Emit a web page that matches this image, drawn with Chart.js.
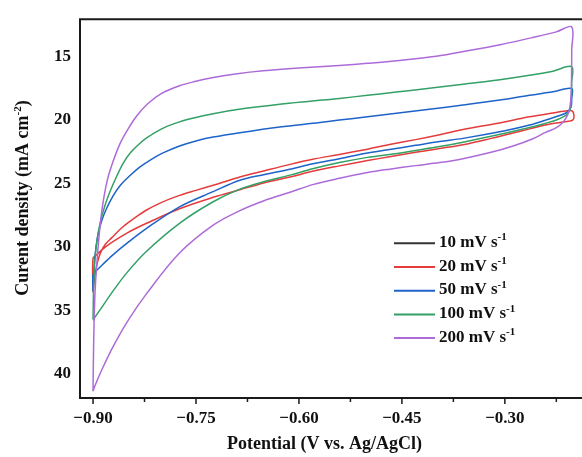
<!DOCTYPE html>
<html><head><meta charset="utf-8">
<script src="https://cdn.jsdelivr.net/npm/chart.js@4.4.0/dist/chart.umd.min.js"></script>
<style>html,body{margin:0;padding:0;background:#fff;}canvas{display:block;}</style>
</head><body>
<canvas id="c" width="582" height="457"></canvas>
<script>
// ---- data ----
const seriesNames = ['10 mV s', '20 mV s', '50 mV s', '100 mV s', '200 mV s'];
const seriesSup = '-1';
const xTitle = 'Potential (V vs. Ag/AgCl)';
const yTitleMain = 'Curent density (mA cm';
const yTitleSup = '-2';

const potential10 = [];
const current10 = [];

const potential20 = [-0.9,-0.8985,-0.8965,-0.893,-0.8885,-0.882,-0.873,-0.856,-0.84,-0.822,-0.8,-0.774,-0.75,-0.725,-0.686,-0.65,-0.613,-0.58,-0.541,-0.5,-0.468,-0.43,-0.395,-0.361,-0.31,-0.264,-0.23,-0.206,
  -0.2015,-0.1995,-0.1995,-0.2015,-0.207,-0.22,-0.239,
  -0.264,-0.288,-0.32,-0.361,-0.395,-0.43,-0.468,-0.5,-0.541,-0.58,-0.613,-0.65,-0.686,-0.725,-0.774,-0.822,-0.85,-0.871,-0.885,-0.895,-0.9,-0.9];
const current20 = [33.6,32.8,32.0,31.1,30.4,29.8,29.3,28.4,27.75,27.1,26.5,25.95,25.55,25.15,24.5,24.0,23.5,23.1,22.72,22.3,21.94,21.55,21.16,20.75,20.25,19.75,19.45,19.26,
  19.3,19.55,19.85,20.02,20.1,20.2,20.38,
  20.7,21.03,21.45,21.95,22.25,22.55,22.9,23.2,23.62,24.05,24.5,24.95,25.5,26.1,27.0,28.15,28.9,29.6,30.15,30.64,30.9,33.6];

const potential50 = [-0.9,-0.8995,-0.8975,-0.893,-0.887,-0.8805,-0.871,-0.861,-0.8465,-0.832,-0.815,-0.798,-0.774,-0.75,-0.725,-0.686,-0.628,-0.5695,-0.541,-0.5,-0.458,-0.41,-0.361,-0.31,-0.264,-0.23,-0.2026,
  -0.2026,-0.203,-0.205,-0.209,-0.215,-0.24,
  -0.264,-0.3,-0.361,-0.395,-0.43,-0.468,-0.5,-0.541,-0.58,-0.613,-0.65,-0.686,-0.725,-0.774,-0.822,-0.85,-0.871,-0.886,-0.896,-0.9,-0.9];
const current50 = [33.5,32.9,30.9,29.1,27.9,27.0,26.0,25.2,24.4,23.72,23.1,22.6,22.05,21.65,21.35,21.0,20.55,20.2,20.0,19.75,19.47,19.15,18.82,18.45,18.05,17.78,17.52,
  18.3,18.8,19.15,19.38,19.55,20.0,
  20.4,20.85,21.45,21.7,22.0,22.33,22.6,23.05,23.45,23.88,24.3,24.75,25.65,26.85,28.55,29.7,30.64,31.4,31.94,32.2,33.5];

const potential100 = [-0.9,-0.8995,-0.899,-0.8975,-0.8945,-0.89,-0.883,-0.8757,-0.866,-0.856,-0.845,-0.834,-0.822,-0.8,-0.774,-0.75,-0.725,-0.68,-0.628,-0.58,-0.541,-0.5,-0.458,-0.41,-0.361,-0.31,-0.264,-0.23,-0.2026,
  -0.2026,-0.203,-0.204,-0.2065,-0.213,-0.225,-0.24,
  -0.264,-0.3,-0.361,-0.395,-0.43,-0.468,-0.5,-0.541,-0.58,-0.613,-0.65,-0.686,-0.725,-0.774,-0.822,-0.85,-0.871,-0.89,-0.899,-0.9];
const current100 = [35.7,34.0,33.0,31.2,29.6,28.2,26.8,25.7,24.5,23.4,22.55,21.95,21.42,20.7,20.15,19.8,19.5,19.1,18.75,18.5,18.3,18.05,17.8,17.5,17.18,16.85,16.48,16.15,15.8,
  17.0,18.2,18.9,19.35,19.7,20.0,20.25,
  20.6,21.05,21.75,22.1,22.4,22.72,22.95,23.36,23.85,24.35,24.85,25.45,26.45,28.15,30.35,32.0,33.5,35.0,35.7,35.8];

const potential200 = [-0.9,-0.8995,-0.8985,-0.897,-0.894,-0.89,-0.8854,-0.879,-0.871,-0.861,-0.85,-0.8367,-0.82,-0.8,-0.774,-0.75,-0.725,-0.69,-0.652,-0.6,-0.541,-0.5,-0.453,-0.4,-0.356,-0.307,-0.259,-0.225,-0.2026,
  -0.2026,-0.2028,-0.2035,-0.205,-0.2085,-0.215,-0.225,-0.2415,
  -0.26,-0.288,-0.32,-0.361,-0.395,-0.43,-0.468,-0.5,-0.541,-0.58,-0.613,-0.65,-0.686,-0.725,-0.774,-0.822,-0.85,-0.871,-0.888,-0.8975,-0.9];
const current200 = [41.4,39.0,36.0,33.5,31.0,28.5,26.5,24.7,23.3,21.9,20.8,19.7,18.7,17.9,17.3,16.95,16.65,16.35,16.12,15.9,15.7,15.53,15.3,14.97,14.56,14.06,13.49,13.05,12.66,
  14.5,16.5,18.0,18.9,19.6,20.15,20.6,21.0,
  21.5,22.05,22.55,23.05,23.36,23.6,23.88,24.15,24.6,25.1,25.7,26.35,27.15,28.3,30.5,33.7,35.9,37.9,39.8,41.0,41.4];

const seriesColors = ['#333333', '#e53b3b', '#1d63c9', '#33a066', '#ad6bd9'];

// ---- build ----
const xs = [potential10, potential20, potential50, potential100, potential200];
const ys = [current10, current20, current50, current100, current200];
const datasets = seriesNames.map((n, i) => ({
  label: n + ' ' + seriesSup,
  data: xs[i].map((x, k) => ({x: x, y: ys[i][k]})),
  borderColor: seriesColors[i],
  backgroundColor: seriesColors[i],
  borderWidth: 1.5,
  pointRadius: 0,
  showLine: true,
  tension: 0.35,
  fill: false,
  order: 4 - i
}));

const FONT = '"Liberation Serif", "Times New Roman", serif';

function drawParts(ctx, parts, x, y, size) {
  let cx = x;
  for (const p of parts) {
    if (p.sup) {
      ctx.font = 'bold ' + Math.round(size * 0.62) + 'px ' + FONT;
      ctx.fillText(p.t, cx, y - size * 0.38);
    } else {
      ctx.font = 'bold ' + size + 'px ' + FONT;
      ctx.fillText(p.t, cx, y);
    }
    cx += ctx.measureText(p.t).width;
  }
  return cx - x;
}
function measureParts(ctx, parts, size) {
  let w = 0;
  for (const p of parts) {
    ctx.font = 'bold ' + (p.sup ? Math.round(size * 0.62) : size) + 'px ' + FONT;
    w += ctx.measureText(p.t).width;
  }
  return w;
}

const framePlugin = {
  id: 'frame',
  afterDraw(chart) {
    const ctx = chart.ctx;
    const a = chart.chartArea;
    const sx = chart.scales.x, sy = chart.scales.y;
    ctx.save();
    ctx.strokeStyle = '#1a1a1a';
    ctx.lineWidth = 2;
    ctx.beginPath();
    ctx.moveTo(a.left, a.top); ctx.lineTo(a.right + 2, a.top);
    ctx.moveTo(a.left, a.top - 1); ctx.lineTo(a.left, a.bottom + 1);
    ctx.moveTo(a.left - 1, a.bottom); ctx.lineTo(a.right + 2, a.bottom);
    ctx.stroke();
    // ticks
    ctx.lineWidth = 1.5;
    const xt = sx.ticks.map(t => t.value);
    const xstep = xt[1] - xt[0];
    ctx.beginPath();
    for (let v = xt[0] - xstep / 2; v <= sx.max + 1e-9; v += xstep / 2) {
      if (v < sx.min) continue;
      const p = sx.getPixelForValue(v);
      const major = xt.some(t => Math.abs(t - v) < 1e-6);
      ctx.moveTo(p, a.bottom); ctx.lineTo(p, a.bottom + (major ? 6 : 4));
    }
    const yt = sy.ticks.map(t => t.value);
    const ystep = yt[1] - yt[0];
    for (let v = yt[0] - ystep / 2; v <= sy.max + 1e-9; v += ystep / 2) {
      if (v < sy.min) continue;
      const p = sy.getPixelForValue(v);
      const major = yt.some(t => Math.abs(t - v) < 1e-6);
      ctx.moveTo(a.left, p); ctx.lineTo(a.left - (major ? 6 : 4), p);
    }
    ctx.stroke();

    // axis titles
    ctx.fillStyle = '#111';
    ctx.textBaseline = 'alphabetic';
    ctx.textAlign = 'left';
    const xParts = [{t: xTitle}];
    const wx = measureParts(ctx, xParts, 18);
    drawParts(ctx, xParts, 324.5 - wx / 2, 449, 18);
    const yParts = [{t: yTitleMain}, {t: yTitleSup, sup: true}, {t: ')'}];
    const wy = measureParts(ctx, yParts, 18);
    ctx.save();
    ctx.translate(28, 198);
    ctx.rotate(-Math.PI / 2);
    drawParts(ctx, yParts, -wy / 2, 0, 18);
    ctx.restore();

    // legend
    const rowY0 = 243.3, rowGap = 23.7;
    chart.data.datasets.forEach((ds, i) => {
      const yc = rowY0 + i * rowGap;
      ctx.strokeStyle = ds.borderColor;
      ctx.lineWidth = 2;
      ctx.beginPath(); ctx.moveTo(394, yc); ctx.lineTo(435, yc); ctx.stroke();
      ctx.fillStyle = '#111';
      drawParts(ctx, [{t: seriesNames[i]}, {t: seriesSup, sup: true}], 439, yc + 3.6, 17);
    });
    ctx.restore();
  }
};

new Chart(document.getElementById('c'), {
  type: 'scatter',
  data: { datasets },
  options: {
    responsive: false,
    animation: false,
    devicePixelRatio: 1,
    layout: { padding: { top: 15, right: 0, bottom: 0, left: 0 } },
    plugins: { legend: { display: false }, tooltip: { enabled: false } },
    scales: {
      x: {
        type: 'linear', min: -0.919, max: -0.1876,
        grid: { display: false, drawTicks: false },
        border: { display: false },
        ticks: {
          stepSize: 0.15, includeBounds: false, padding: 10, color: '#111',
          font: { family: FONT, size: 17, weight: 'bold' },
          callback: v => (v < 0 ? '\u2212' : '') + Math.abs(v).toFixed(2)
        },
        afterFit: s => { s.height = 59; }
      },
      y: {
        type: 'linear', reverse: true, min: 12.05, max: 41.93,
        grid: { display: false, drawTicks: false },
        border: { display: false },
        ticks: {
          stepSize: 5, includeBounds: false, padding: 9, color: '#111',
          font: { family: FONT, size: 17, weight: 'bold' },
          callback: v => String(v)
        },
        afterFit: s => { s.width = 80; }
      }
    }
  },
  plugins: [framePlugin]
});
</script>
</body></html>
